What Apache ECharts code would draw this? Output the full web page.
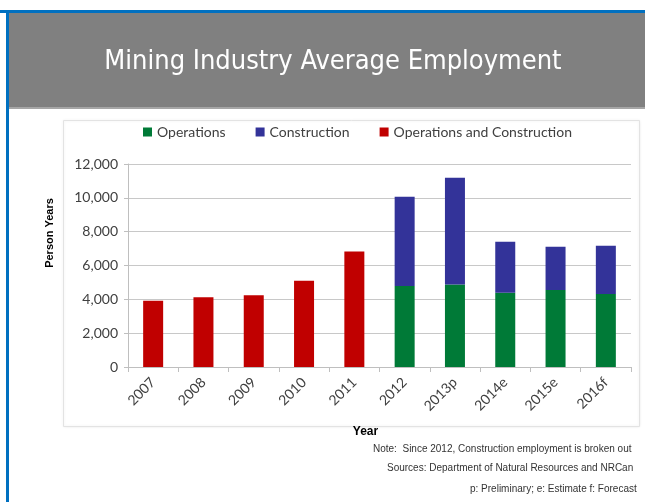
<!DOCTYPE html>
<html><head><meta charset="utf-8">
<script src="https://cdn.jsdelivr.net/npm/echarts@6/dist/echarts.min.js"></script>
<style>html,body{margin:0;padding:0;background:#fff}#c{width:645px;height:502px}</style>
</head><body><div id="c"></div>
<script>
const categories = ['2007','2008','2009','2010','2011','2012','2013p','2014e','2015e','2016f'];
const operations = [null,null,null,null,null,4790,4870,4390,4550,4320];
const construction = [null,null,null,null,null,5280,6320,3020,2560,2850];
const opsAndConstruction = [3920,4130,4240,5100,6830,null,null,null,null,null];
const yTicks = [0,2000,4000,6000,8000,10000,12000];
const notes = ['Note:  Since 2012, Construction employment is broken out','Sources: Department of Natural Resources and NRCan','p: Preliminary; e: Estimate f: Forecast'];

const chart = echarts.init(document.getElementById('c'));
const lblFont = 'Lato, "Open Sans", sans-serif';
chart.setOption({
  animation:false,
  grid:{left:128,right:14,top:164,bottom:135},
  legend:{
    top:120,left:138,itemWidth:9,itemHeight:9,itemGap:30,icon:'rect',
    textStyle:{fontSize:14,color:'#404040',fontFamily:lblFont},
    data:['Operations','Construction','Operations and Construction']
  },
  xAxis:{
    type:'category',data:categories,
    axisLine:{lineStyle:{color:'#bfbfbf',width:1}},
    axisTick:{show:true,alignWithLabel:false,length:5,lineStyle:{color:'#bfbfbf'}},
    axisLabel:{rotate:45,fontSize:14,color:'#404040',fontFamily:lblFont,margin:13,interval:0},
    name:'Year',nameLocation:'middle',nameGap:59,
    nameTextStyle:{fontSize:12,fontWeight:'bold',color:'#000',fontFamily:'"Liberation Sans", Arial, sans-serif',padding:[0,0,0,-28]}
  },
  yAxis:{
    type:'value',min:0,max:12000,interval:2000,
    axisLine:{show:true,lineStyle:{color:'#bfbfbf'}},
    axisTick:{show:true,length:4,lineStyle:{color:'#bfbfbf'}},
    splitLine:{lineStyle:{color:'#c8c8c8',width:1}},
    axisLabel:{fontSize:14,color:'#404040',fontFamily:lblFont,margin:10,
      formatter:v=>yTicks.includes(v)?v.toLocaleString('en-US'):''}
  },
  series:[
    {name:'Operations',type:'bar',stack:'a',data:operations,barWidth:20,itemStyle:{color:'#007A37'}},
    {name:'Construction',type:'bar',stack:'a',data:construction,barWidth:20,itemStyle:{color:'#333399'}},
    {name:'Operations and Construction',type:'bar',stack:'a',data:opsAndConstruction,barWidth:20,itemStyle:{color:'#C00000'}}
  ],
  graphic:[
    {type:'rect',z:-10,shape:{x:0,y:10,width:645,height:3},style:{fill:'#0070C0'}},
    {type:'rect',z:-10,shape:{x:6,y:10,width:3,height:492},style:{fill:'#0070C0'}},
    {type:'rect',z:-9,shape:{x:9,y:13,width:636,height:95},style:{fill:'#808080'}},
    {type:'rect',z:-9,shape:{x:9,y:107,width:636,height:2},style:{fill:'#a6a6a6'}},
    {type:'text',z:5,x:333,y:62,style:{text:'Mining Industry Average Employment',fill:'#fff',fontSize:27,fontWeight:500,
      fontFamily:'"Liberation Sans Narrow","DejaVu Sans Condensed",sans-serif',align:'center',verticalAlign:'middle'}},
    {type:'rect',z:-8,shape:{x:63.5,y:120.5,width:576,height:306},style:{fill:'#fff',stroke:'#e3e3e3',lineWidth:1,shadowBlur:3,shadowColor:'rgba(0,0,0,0.08)'}},
    {type:'text',x:50,y:233,rotation:Math.PI/2,style:{text:'Person Years',fill:'#000',fontSize:11,fontWeight:'bold',
      fontFamily:'"Liberation Sans", Arial, sans-serif',align:'center',verticalAlign:'middle'}},
    {type:'text',x:373,y:449,style:{text:notes[0],fill:'#333',fontSize:10,fontFamily:'"Liberation Sans", Arial, sans-serif',verticalAlign:'middle'}},
    {type:'text',x:387,y:468,style:{text:notes[1],fill:'#333',fontSize:10,fontFamily:'"Liberation Sans", Arial, sans-serif',verticalAlign:'middle'}},
    {type:'text',x:470,y:489,style:{text:notes[2],fill:'#333',fontSize:10,fontFamily:'"Liberation Sans", Arial, sans-serif',verticalAlign:'middle'}}
  ]
});
</script></body></html>
